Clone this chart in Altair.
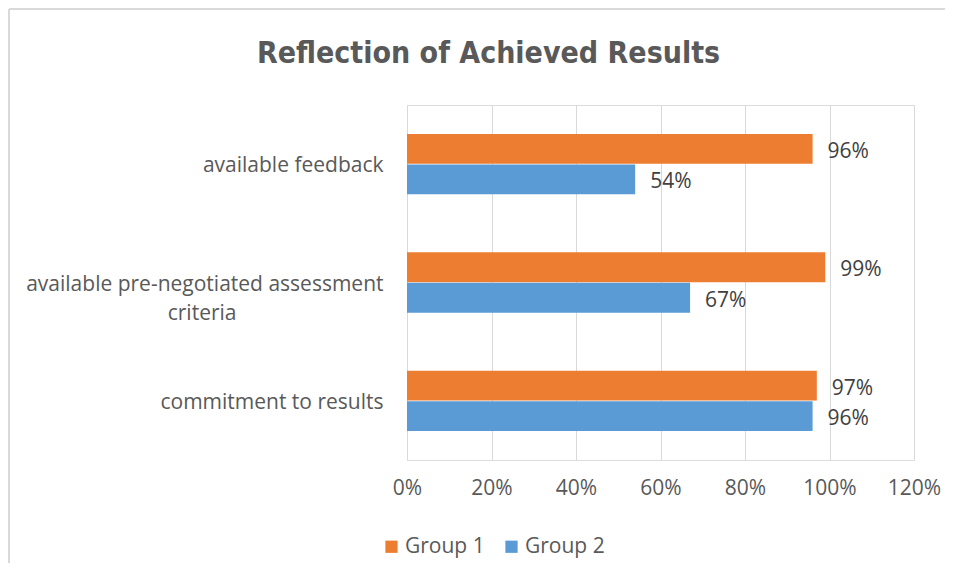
import altair as alt
import pandas as pd

categories = ["available feedback", "available pre-negotiated assessment criteria", "commitment to results"]
groups = ["Group 1", "Group 2"]
group1 = [0.96, 0.99, 0.97]
group2 = [0.54, 0.67, 0.96]
x_ticks = [0, 0.2, 0.4, 0.6, 0.8, 1.0, 1.2]
colors = ["#ED7D31", "#5B9BD5"]

rows = []
for c, a, b in zip(categories, group1, group2):
    rows.append({"category": c, "group": groups[0], "value": a})
    rows.append({"category": c, "group": groups[1], "value": b})
df = pd.DataFrame(rows)

FONT = "Open Sans"
FS = 21
pad = "\u2003" * 7 + "\u200b"
label_expr = (
    "datum.value == 'available pre-negotiated assessment criteria' ? "
    "['available pre-negotiated assessment', 'criteria" + pad + "'] : datum.value"
)

y_enc = alt.Y(
    "category:N",
    sort=categories,
    scale=alt.Scale(paddingInner=0.49, paddingOuter=0.245),
    axis=alt.Axis(
        title=None, domain=False, ticks=False, labelPadding=24,
        labelFontSize=FS, labelColor="#595959", labelFont=FONT,
        labelLineHeight=29, labelExpr=label_expr, minExtent=399, maxExtent=399,
        labelLimit=400, labelOffset=2,
    ),
)
x_enc = alt.X(
    "value:Q",
    scale=alt.Scale(domain=[0, 1.2], nice=False),
    axis=alt.Axis(
        title=None, format=".0%", values=x_ticks, domain=False, ticks=False,
        labelPadding=17, labelFontSize=FS, labelColor="#595959", labelFont=FONT,
        labelFlush=False, labelOverlap=False,
        gridColor="#d9d9d9", gridWidth=1,
    ),
)
yoff = alt.YOffset("group:N", sort=groups, scale=alt.Scale(paddingInner=0.02))

base = alt.Chart(df).encode(y=y_enc, yOffset=yoff)

bars = base.mark_bar().encode(
    x=x_enc,
    color=alt.Color(
        "group:N",
        sort=groups,
        scale=alt.Scale(domain=groups, range=colors),
        legend=alt.Legend(
            title=None, orient="none", direction="horizontal", legendX=-26, legendY=431,
            symbolType="square", symbolSize=150, symbolStrokeWidth=0,
            labelFontSize=FS, labelColor="#595959", labelFont=FONT,
            columnPadding=16, labelOffset=3,
        ),
    ),
)

labels = base.mark_text(align="left", baseline="middle", dx=15, dy=3, fontSize=FS,
                        font=FONT, color="#404040").encode(
    x="value:Q",
    text=alt.Text("value:Q", format=".0%"),
)

# outer chart frame (decoration only)
frame_top = alt.Chart(df).mark_rule(color="#d9d9d9", strokeWidth=2).encode(
    x=alt.value(-398), x2=alt.value(538), y=alt.value(-96)
)
frame_left = alt.Chart(df).mark_rule(color="#d9d9d9", strokeWidth=2).encode(
    x=alt.value(-398), y=alt.value(-96), y2=alt.value(458)
)

chart = (
    alt.layer(frame_top, frame_left, bars, labels)
    .properties(
        width=507,
        height=355,
        padding={"left": 0, "top": 0, "right": 0, "bottom": 0},
        title=alt.TitleParams(
            "Reflection of Achieved Results",
            font="DejaVu Sans Condensed, Open Sans, sans-serif", fontSize=30, fontWeight="bold",
            color="#595959", anchor="middle", frame="group", dx=-172, offset=-61,
        ),
    )
    .configure_view(strokeWidth=0)
    .configure(background="white")
)

chart.save("out.html", embed_options={"renderer": "svg", "actions": False})
